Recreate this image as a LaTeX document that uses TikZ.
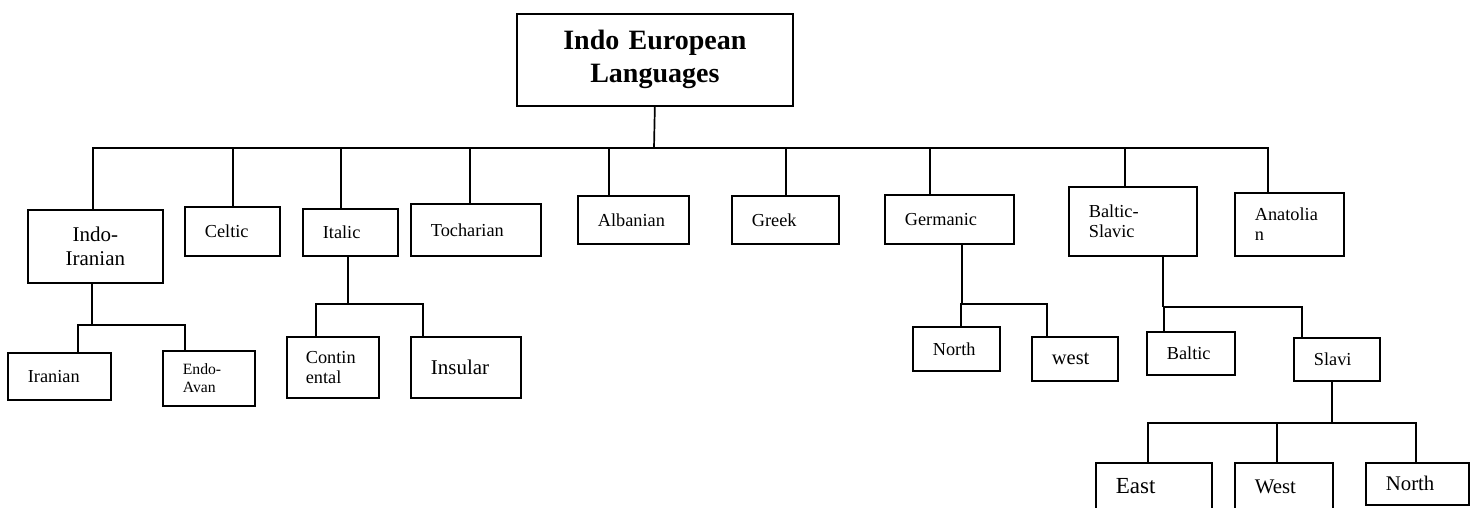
\documentclass[tikz,border=0pt]{standalone}
\usepackage{fontspec}
\setmainfont{Liberation Serif}

\tikzset{
  lang/.style={draw, line width=1.7pt, anchor=north west, inner xsep=20pt, inner ysep=0pt, align=left, font=\fontsize{18.3}{20.5}\selectfont},
  link/.style={line width=1.7pt},
}

\begin{document}
\begin{tikzpicture}[x=1pt, y=-1pt]
	\useasboundingbox (0,0) rectangle (1473,508);
	\clip (0,0) rectangle (1473,508); % East/West boxes run past the lower edge
	\node[lang, align=center, text width=236pt, minimum height=92pt, font=\fontsize{28}{33}\selectfont\bfseries] (root) at (516,13) {Indo European\\Languages};
	% first row
	\node[lang, align=center, text width=95pt, minimum height=73pt, font=\fontsize{21}{24}\selectfont] (indoiran) at (27,209) {Indo-\\Iranian};
	\node[lang, text width=55pt, minimum height=49pt] (celtic) at (184,206) {Celtic};
	\node[lang, text width=55pt, minimum height=47pt] (italic) at (302,208) {Italic};
	\node[lang, text width=90pt, minimum height=52pt] (toch) at (410,203) {Tocharian};
	\node[lang, text width=71pt, minimum height=48pt] (alban) at (577,195) {Albanian};
	\node[lang, text width=67pt, minimum height=48pt] (greek) at (731,195) {Greek};
	\node[lang, text width=89pt, minimum height=49pt] (german) at (884,194) {Germanic};
	\node[lang, text width=88pt, minimum height=69pt] (baltslav) at (1068,186) {Baltic-\\Slavic};
	\node[lang, text width=69pt, minimum height=63pt] (anat) at (1234,192) {Anatolia\\n};
	% second row
	\node[lang, text width=63pt, minimum height=47pt] (iranian) at (7,352) {Iranian};
	\node[lang, text width=52pt, minimum height=55pt, font=\fontsize{15.7}{17.5}\selectfont] (endoavan) at (162,350) {Endo-\\Avan};
	\node[lang, inner xsep=19pt, text width=54pt, minimum height=61pt] (contin) at (286,336) {Contin\\ental};
	\node[lang, text width=70pt, minimum height=61pt, font=\fontsize{21}{24}\selectfont] (insular) at (410,336) {Insular};
	\node[lang, text width=47pt, minimum height=44pt] (gnorth) at (912,326) {North};
	\node[lang, text width=46pt, minimum height=44pt, font=\fontsize{20.5}{23}\selectfont] (gwest) at (1031,336) {west};
	\node[lang, text width=48pt, minimum height=43pt] (baltic) at (1146,331) {Baltic};
	\node[lang, text width=46pt, minimum height=43pt] (slavi) at (1293,337) {Slavi};
	% third row
	\node[lang, text width=76pt, minimum height=47pt, font=\fontsize{23}{26}\selectfont] (seast) at (1095,462) {East};
	\node[lang, text width=58pt, minimum height=47pt, font=\fontsize{20.8}{23}\selectfont] (swest) at (1234,462) {West};
	\node[lang, text width=63pt, minimum height=42pt, font=\fontsize{20.8}{23}\selectfont] (snorth) at (1365,462) {North};

	\coordinate (bus) at (654,148);
	\coordinate (iibus) at (92,325);
	\coordinate (itbus) at (348,304);
	\coordinate (gebus) at (962,304);
	\coordinate (bsbus) at (1163,307);
	\coordinate (slbus) at (1332,423);

	\draw[link] (root.south) -- (bus);
	\foreach \n/\d in {indoiran/-2.5, celtic/0.5, italic/-9.5, toch/-6, alban/-24.5, greek/0.5, german/-19.5, baltslav/-8, anat/-21.5}
		\draw[link] ([xshift=\d pt]\n.north) |- (bus);

	\draw[link] (indoiran.south -| iibus) -- (iibus);
	\foreach \n/\d in {iranian/18.5, endoavan/-24}
		\draw[link] ([xshift=\d pt]\n.north) |- (iibus);

	\draw[link] (italic.south -| itbus) -- (itbus);
	\foreach \n/\d in {contin/-17, insular/-43}
		\draw[link] ([xshift=\d pt]\n.north) |- (itbus);

	\draw[link] (german.south -| gebus) -- (gebus);
	\foreach \n/\d in {gnorth/4.5, gwest/-28}
		\draw[link] ([xshift=\d pt]\n.north) |- (gebus);

	\draw[link] (baltslav.south -| bsbus) -- (bsbus);
	\foreach \n/\d in {baltic/-27, slavi/-35}
		\draw[link] ([xshift=\d pt]\n.north) |- (bsbus);

	\draw[link] (slavi.south -| slbus) -- (slbus);
	\foreach \n/\d in {seast/-6, swest/-7, snorth/-1.5}
		\draw[link] ([xshift=\d pt]\n.north) |- (slbus);
\end{tikzpicture}
\end{document}
